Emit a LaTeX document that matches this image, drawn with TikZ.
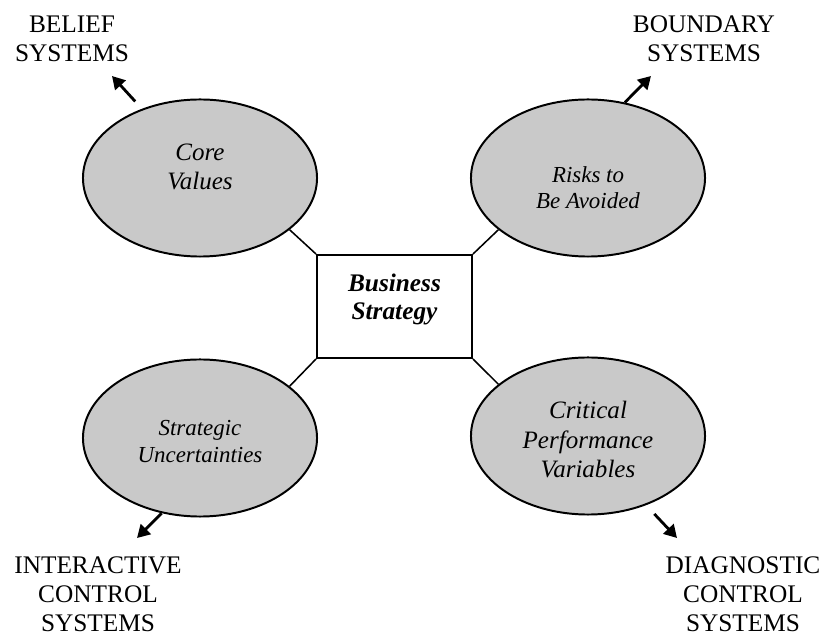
\documentclass[tikz,border=0pt]{standalone}
\usepackage{fontspec}
\setmainfont{Liberation Serif}
\usetikzlibrary{shapes.geometric,arrows.meta}
\tikzset{
    lever/.style={ellipse, draw=black, line width=1.4pt, fill=black!21,
        minimum width=5.85cm, minimum height=3.925cm, inner sep=0pt},
    levertext/.style={align=center, font=\fontsize{17.8}{21}\selectfont\itshape},
    leversmall/.style={align=center, font=\fontsize{16.3}{18.7}\selectfont\itshape},
    strategybox/.style={draw=black, line width=1.4pt, fill=white,
        minimum width=3.875cm, minimum height=2.575cm, inner sep=0pt},
    strategytext/.style={align=center, font=\fontsize{18}{20}\selectfont\bfseries\itshape},
    system/.style={align=center, font=\fontsize{18}{20.5}\selectfont},
    link/.style={line width=1.1pt},
    push/.style={line width=2pt, -{Triangle[length=9pt,width=10pt]}}
}
\begin{document}
\begin{tikzpicture}[x=0.025cm, y=-0.025cm]
    \useasboundingbox (0,0) rectangle (824,635);
    % centre and the four levers
    \node[strategybox, label={[name=strategy text, strategytext, yshift=0.175cm]center:Business\\Strategy}] (strategy) at (394.5,306.5) {};
    \node[lever, label={[name=core text, levertext, yshift=0.275cm]center:Core\\Values}] (core) at (200,178) {};
    \node[lever, label={[name=risks text, leversmall, yshift=-0.25cm]center:Risks to\\Be Avoided}] (risks) at (588,178) {};
    \node[lever, label={[name=unc text, leversmall, yshift=-0.09cm]center:Strategic\\Uncertainties}] (unc) at (200,438) {};
    \node[lever, label={[name=crit text, levertext, yshift=-0.09cm]center:Critical\\Performance\\Variables}] (crit) at (588,436) {};
    \draw[link] (core.-30) -- (strategy.north west);
    \draw[link] (risks.210) -- (strategy.north east);
    \draw[link] (unc.30) -- (strategy.south west);
    \draw[link] (crit.150) -- (strategy.south east);
    % the four systems
    \node[system] (belief) at (72,39) {BELIEF\\SYSTEMS};
    \node[system] (boundary) at (704,39) {BOUNDARY\\SYSTEMS};
    \node[system] (interactive) at (98,594) {INTERACTIVE\\CONTROL\\SYSTEMS};
    \node[system] (diagnostic) at (743,594) {DIAGNOSTIC\\CONTROL\\SYSTEMS};
    \coordinate (belief tip) at (112,76);
    \coordinate (boundary tip) at (651,76);
    \coordinate (interactive tip) at (137,538);
    \coordinate (diagnostic tip) at (677,538);
    \draw[push, shorten <=0.25cm] (core.130) -- (belief tip);
    \draw[push] (risks.64) -- (boundary tip);
    \draw[push] (unc.243) -- (interactive tip);
    \draw[push, shorten <=0.3cm] (crit.310) -- (diagnostic tip);
\end{tikzpicture}
\end{document}
